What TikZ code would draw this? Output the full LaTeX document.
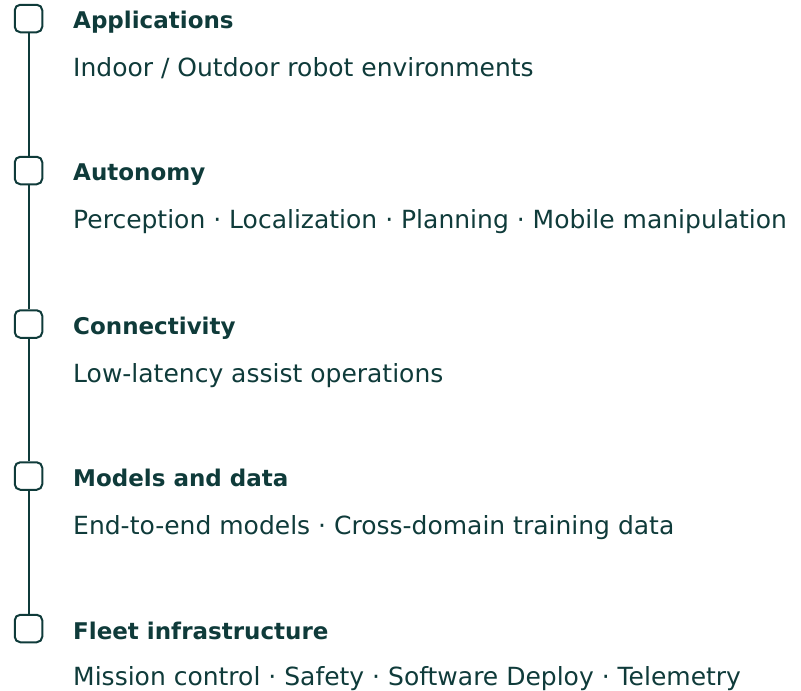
\documentclass[tikz,border=0pt]{standalone}
\usepackage{fontspec}
\setmainfont{DejaVu Sans}
\usetikzlibrary{positioning}
\definecolor{ink}{HTML}{0F3B3A}
\tikzset{
  x=1pt,y=-1pt,
  stage/.style={draw=ink,line width=2pt,rounded corners=5.5pt,minimum width=27.5pt,minimum height=27.5pt,inner sep=0pt},
  link/.style={draw=ink,line width=2pt},
  ttl/.style={anchor=base west,inner sep=0pt,text=ink,font=\fontsize{23}{27}\selectfont\bfseries},
  sub/.style={anchor=base west,inner sep=0pt,text=ink,font=\fontsize{25}{29}\selectfont}
}
\begin{document}
\begin{tikzpicture}
\useasboundingbox (0,0) rectangle (801,691);
\node[stage] (b1) at (28.5,18.5) {};
\node[stage] (b2) at (28.5,170.5) {};
\node[stage] (b3) at (28.5,324) {};
\node[stage] (b4) at (28.5,476) {};
\node[stage] (b5) at (28.5,628.5) {};
\draw[link] (b1) -- (b2);
\draw[link] (b2) -- (b3);
\draw[link] (b3) -- (b4);
\draw[link] (b4) -- (b5);
\node[ttl] (t1) at (73,28.7) {Applications};
\node[sub] (s1) at (73,76.7) {Indoor / Outdoor robot environments};
\node[ttl] (t2) at (73,180.5) {Autonomy};
\node[sub] (s2) at (73,228.5) {Perception · Localization · Planning · Mobile manipulation};
\node[ttl] (t3) at (73,334) {Connectivity};
\node[sub] (s3) at (73,382) {Low-latency assist operations};
\node[ttl] (t4) at (73,486) {Models and data};
\node[sub] (s4) at (73,534) {End-to-end models · Cross-domain training data};
\node[ttl] (t5) at (73,639) {Fleet infrastructure};
\node[sub] (s5) at (73,685.5) {Mission control · Safety · Software Deploy · Telemetry};
\end{tikzpicture}
\end{document}
